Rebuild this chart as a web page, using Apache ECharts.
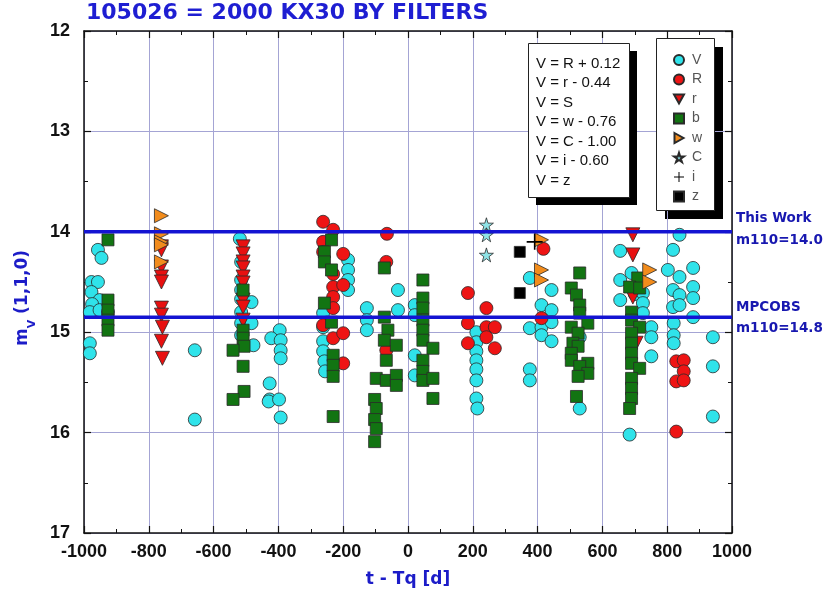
<!DOCTYPE html>
<html>
<head>
<meta charset="utf-8">
<script src="https://cdn.jsdelivr.net/npm/echarts@6/dist/echarts.min.js"></script>
<style>
html,body{margin:0;padding:0;background:#fff;}
#chart{width:825px;height:600px;}
</style>
</head>
<body>
<div id="chart"></div>
<script>
// ---- data (x = t - Tq [d], y = m_V) ----
var seriesNames = ['V','R','r','b','w','C','i','z'];

var V_points = [
  [-957,14.18],[-946,14.26],[-977,14.50],[-957,14.50],[-977,14.60],[-952,14.68],[-975,14.72],
  [-982,14.80],[-952,14.78],[-926,14.80],[-982,15.11],[-982,15.21],
  [-658,15.18],[-658,15.87],
  [-519,14.07],[-515,14.30],[-515,14.48],[-515,14.58],[-515,14.67],[-483,14.70],[-515,14.80],
  [-515,14.91],[-483,14.91],[-515,15.03],[-477,15.13],
  [-396,14.98],[-422,15.06],[-393,15.08],[-393,15.18],[-393,15.26],[-427,15.51],[-427,15.67],
  [-430,15.69],[-398,15.67],[-393,15.85],
  [-262,14.81],[-262,14.95],[-262,15.09],[-262,15.19],[-258,15.29],[-256,15.39],
  [-185,14.28],[-185,14.38],[-185,14.48],[-185,14.58],
  [-127,14.76],[-127,14.88],[-127,14.98],
  [-31,14.58],[-31,14.78],
  [21,14.73],[21,14.83],[21,15.23],[21,15.43],
  [211,15.00],[211,15.10],[211,15.19],[211,15.28],[211,15.37],[211,15.48],[211,15.66],[214,15.76],
  [376,14.46],[443,14.58],[412,14.73],[443,14.78],[376,14.96],[412,14.95],[443,14.90],[412,15.03],
  [443,15.09],[376,15.37],[376,15.48],
  [530,15.05],[530,15.76],
  [655,14.19],[655,14.48],[655,14.68],
  [690,14.41],[700,14.62],[725,14.61],[725,14.71],[725,14.81],[751,14.95],[751,15.05],[751,15.24],[684,16.02],
  [838,14.03],[818,14.18],[802,14.38],[838,14.45],[880,14.36],[818,14.58],[880,14.55],[838,14.63],
  [880,14.66],[818,14.75],[838,14.73],[880,14.85],[820,14.91],[820,15.03],[820,15.11],
  [941,15.05],[941,15.34],[941,15.84]
];
var R_points = [
  [-262,13.90],[-231,13.98],[-262,14.10],[-262,14.20],[-200,14.22],[-231,14.42],[-231,14.55],[-200,14.53],
  [-231,14.65],[-231,14.76],[-262,14.93],[-231,15.06],[-200,15.01],[-200,15.31],
  [-65,14.02],[-67,14.30],[-67,15.18],
  [185,14.61],[242,14.76],[185,14.91],[242,14.95],[268,14.95],[242,15.05],[185,15.11],[268,15.16],
  [418,14.17],[412,14.86],
  [828,15.29],[851,15.28],[851,15.39],[828,15.49],[851,15.48],[828,15.99]
];
var r_points = [
  [-761,14.15],[-761,14.18],[-761,14.35],[-761,14.45],[-761,14.50],[-761,14.76],[-761,14.83],
  [-758,14.95],[-761,15.09],[-758,15.26],
  [-509,14.15],[-509,14.22],[-509,14.30],[-509,14.36],[-509,14.45],[-509,14.51],[-509,14.68],
  [-509,14.75],[-509,14.88],
  [694,14.03],[694,14.23],[694,14.65],[704,15.11]
];
var b_points = [
  [-926,14.08],[-926,14.68],[-926,14.78],[-926,14.88],[-926,14.98],
  [-509,14.58],[-509,14.98],[-509,15.06],[-506,15.14],[-540,15.18],[-509,15.34],[-506,15.59],[-540,15.67],
  [-236,14.08],[-258,14.20],[-258,14.30],[-236,14.38],[-258,14.71],[-236,14.90],[-231,15.23],
  [-231,15.33],[-231,15.44],[-231,15.84],
  [-73,14.36],[-73,14.85],[-62,14.98],[-73,15.08],[-36,15.13],[-67,15.28],[-98,15.46],[-67,15.48],
  [-36,15.43],[-36,15.53],[-103,15.67],[-98,15.76],[-103,15.87],[-98,15.96],[-103,16.09],
  [46,14.48],[46,14.66],[46,14.76],[46,14.88],[46,14.98],[46,15.08],[77,15.16],[46,15.28],
  [46,15.39],[46,15.48],[77,15.46],[77,15.66],
  [530,14.41],[504,14.56],[520,14.63],[530,14.73],[530,14.81],[504,14.95],[555,14.91],[525,15.01],
  [509,15.11],[525,15.14],[504,15.21],[504,15.28],[555,15.31],[530,15.34],[555,15.41],[525,15.44],[520,15.64],
  [709,14.46],[684,14.55],[715,14.56],[690,14.80],[690,14.88],[715,14.95],[690,15.01],[690,15.11],
  [690,15.21],[690,15.31],[715,15.36],[690,15.46],[690,15.56],[690,15.66],[684,15.76]
];
var w_points = [
  [-761,13.84],[-761,14.02],[-761,14.10],[-761,14.13],[-761,14.30],
  [412,14.08],[412,14.38],[412,14.48],
  [746,14.38],[746,14.50]
];
var C_points = [[242,13.93],[242,14.03],[242,14.23]];
var i_points = [[391,14.10]];
var z_points = [[345,14.20],[345,14.61]];

var refLineValues = [14.0, 14.85];
var refLineLabels = [['This Work','m110=14.0'],['MPCOBS','m110=14.8']];
var formulaLines = ['V = R + 0.12','V = r - 0.44','V = S','V = w - 0.76','V = C - 1.00','V = i - 0.60','V = z'];
var xRange = [-1000, 1000];
var yRange = [12, 17];

// ---- chart ----
var chart = echarts.init(document.getElementById('chart'), null, {renderer:'canvas'});
var starPath = 'path://M50,0 L61,35 L98,35 L68,57 L79,91 L50,70 L21,91 L32,57 L2,35 L39,35 Z';
var plusPath = 'path://M9,0 L11,0 L11,9 L20,9 L20,11 L11,11 L11,20 L9,20 L9,11 L0,11 L0,9 L9,9 Z';
var downTri = 'path://M0,0 L20,0 L10,18 Z';
var rightTri = 'path://M0,0 L18,10 L0,20 Z';
var edge = '#2a2a2a';

function sc(name, data, symbol, size, color, border){
  return {
    name:name, type:'scatter', data:data, symbol:symbol, symbolSize:size,
    itemStyle:{color:color, borderColor:border===undefined?edge:border, borderWidth:border===null?0:0.8, opacity:1},
    emphasis:{disabled:true}, silent:true, animation:false
  };
}

var series = [
  sc('V', V_points, 'circle', 13, '#2fe3ea'),
  sc('R', R_points, 'circle', 13, '#ee1414'),
  sc('r', r_points, downTri, 14, '#e81010'),
  sc('b', b_points, 'rect', 12, '#127412'),
  sc('w', w_points, rightTri, 14, '#f28c1c'),
  sc('C', C_points, starPath, 14, '#8ee3e6'),
  sc('i', i_points, plusPath, 16, '#000000', null),
  sc('z', z_points, 'rect', 11, '#000000')
];
refLineValues.forEach(function(v, k){
  series.push({
    name:'ref'+k, type:'line', data:[[xRange[0], v],[xRange[1], v]], symbol:'none',
    lineStyle:{color:'#1414d2', width:3.5}, z:5, silent:true, animation:false
  });
});

var axisFont = {fontFamily:'Liberation Sans, Arial, sans-serif', fontWeight:'bold', fontSize:18, color:'#111'};
var gridColor = '#a4a4d4';

var graphics = [];
// formula box
graphics.push({type:'rect', left:536, top:51, shape:{width:101, height:154}, style:{fill:'#000'}, z:10});
graphics.push({type:'rect', left:528, top:43, shape:{width:101, height:154}, style:{fill:'#fff', stroke:'#222', lineWidth:1}, z:11});
graphics.push({type:'text', left:536, top:54, z:12,
  style:{text:formulaLines.join('\n'), font:'15px "Liberation Sans", Arial, sans-serif', fill:'#111', lineHeight:19.5}});
// legend box background + shadow
graphics.push({type:'rect', left:665, top:47, shape:{width:58, height:172}, style:{fill:'#000'}, z:0, zlevel:0});
graphics.push({type:'rect', left:656, top:38, shape:{width:58, height:172}, style:{fill:'#fff', stroke:'#222', lineWidth:1}, z:1, zlevel:0});
// reference line labels
refLineLabels.forEach(function(lbl, k){
  var ys = [[218,240],[307,328]][k];
  lbl.forEach(function(t, j){
    graphics.push({type:'text', x:736, y:ys[j], z:12,
      style:{text:t, fill:'#1818b0', font:'bold 13.5px "DejaVu Sans", sans-serif', verticalAlign:'middle', align:'left'}});
  });
});
// y axis name
graphics.push({type:'text', x:23, y:298, rotation:Math.PI/2, z:12,
  style:{text:'{m|m}{s|V}{m| (1,1,0)}', align:'center', verticalAlign:'middle',
    rich:{m:{font:'bold 17px "DejaVu Sans", sans-serif', fill:'#1c1cc8'},
          s:{font:'bold 11px "DejaVu Sans", sans-serif', fill:'#1c1cc8', verticalAlign:'bottom', padding:[0,0,-6,0]}}}});

chart.setOption({
  animation:false,
  backgroundColor:'#ffffff',
  title:{text:'105026 = 2000 KX30 BY FILTERS', left:86, top:2, padding:0,
    textStyle:{fontFamily:'DejaVu Sans, sans-serif', fontWeight:'bold', fontSize:22, color:'#1e1ed2'}},
  grid:{left:84, right:93, top:31, bottom:67, containLabel:false},
  legend:{
    data:seriesNames, orient:'vertical', left:656, top:38, z:20,
    padding:[15,12,8,17], itemGap:5.5, itemWidth:10, itemHeight:10,
    backgroundColor:'transparent', borderWidth:0,
    textStyle:{fontFamily:'Liberation Sans, Arial, sans-serif', fontSize:14, color:'#555', padding:[0,0,0,3]},
    selectedMode:false
  },
  xAxis:[{
    type:'value', min:xRange[0], max:xRange[1], interval:200, position:'bottom',
    name:'t - Tq [d]', nameLocation:'middle', nameGap:38,
    nameTextStyle:{fontFamily:'DejaVu Sans, sans-serif', fontWeight:'bold', fontSize:17, color:'#1c1cc8'},
    axisLine:{show:true, onZero:false, lineStyle:{color:'#111', width:1.5}},
    axisTick:{show:true, inside:true, length:7, lineStyle:{color:'#111', width:1.2}},
    minorTick:{show:true, splitNumber:2, length:4, lineStyle:{color:'#111', width:1}},
    splitLine:{show:true, lineStyle:{color:gridColor, width:1}},
    axisLabel:Object.assign({margin:10, formatter:function(v){return String(v);}}, axisFont)
  },{
    type:'value', min:xRange[0], max:xRange[1], interval:200, position:'top',
    axisLine:{show:true, onZero:false, lineStyle:{color:'#111', width:1.5}},
    axisTick:{show:true, inside:true, length:7, lineStyle:{color:'#111', width:1.2}},
    minorTick:{show:true, splitNumber:2, length:4, lineStyle:{color:'#111', width:1}},
    splitLine:{show:false}, axisLabel:{show:false}
  }],
  yAxis:[{
    type:'value', min:yRange[0], max:yRange[1], interval:1, inverse:true, position:'left',
    axisLine:{show:true, onZero:false, lineStyle:{color:'#111', width:1.5}},
    axisTick:{show:true, inside:true, length:7, lineStyle:{color:'#111', width:1.2}},
    minorTick:{show:true, splitNumber:2, length:4, lineStyle:{color:'#111', width:1}},
    splitLine:{show:true, lineStyle:{color:gridColor, width:1}},
    axisLabel:Object.assign({margin:14}, axisFont)
  },{
    type:'value', min:yRange[0], max:yRange[1], interval:1, inverse:true, position:'right',
    axisLine:{show:true, onZero:false, lineStyle:{color:'#111', width:1.5}},
    axisTick:{show:true, inside:true, length:7, lineStyle:{color:'#111', width:1.2}},
    minorTick:{show:true, splitNumber:2, length:4, lineStyle:{color:'#111', width:1}},
    splitLine:{show:false}, axisLabel:{show:false}
  }],
  series:series,
  graphic:graphics
});
</script>
</body>
</html>
